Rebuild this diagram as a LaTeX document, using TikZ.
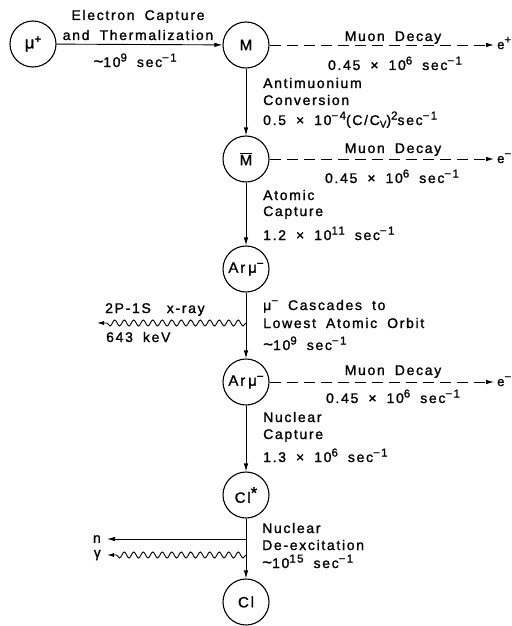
\documentclass[tikz,border=0pt]{standalone}
\usepackage{fontspec}
\setmainfont{Liberation Sans}[LetterSpace=12,WordSpace=1.8,FakeBold=1.3]
\usetikzlibrary{arrows.meta,decorations.pathmorphing}
\newcommand{\up}[1]{\raisebox{5.5pt}{\fontsize{11.5}{11.5}\selectfont #1}}
\newcommand{\dn}[1]{\raisebox{-2.5pt}{\fontsize{10}{10}\selectfont #1}}
\tikzset{
  circ/.style={draw, circle, minimum size=46pt, inner sep=0pt, line width=1.1pt,
    font=\fontsize{15}{15}\selectfont},
  arr/.style={line width=0.9pt, -{Latex[length=8pt,width=4.5pt]}},
  dsh/.style={arr, dash pattern=on 11pt off 6pt},
  wav/.style={line width=0.9pt, -{Latex[length=7pt,width=4pt]}, decorate,
    decoration={snake, amplitude=3pt, segment length=9.5pt, post length=6pt}},
  txt/.style={inner sep=0pt, font=\fontsize{14}{17}\selectfont},
  tl/.style={txt, anchor=base west},
  tc/.style={txt, anchor=base},
}
\begin{document}
\begin{tikzpicture}[x=1pt,y=-1pt]
\useasboundingbox (0,0) rectangle (511,626);
% circles
\node[circ, font=\fontsize{17}{17}\selectfont] (mu) at (33,44) {μ\up{+}};
\node[circ] (M) at (246,45) {M};
\node[circ] (Mb) at (246,159) {$\overline{\mbox{M}}$};
\node[circ] (Ar1) at (246,269) {Ar\hspace{3pt}μ\up{−}};
\node[circ] (Ar2) at (246,382) {Ar\hspace{3pt}μ\up{−}};
\node[circ] (Cls) at (246,495) {Cl\raisebox{4pt}{\fontsize{17}{17}\selectfont *}};
\node[circ] (Cl) at (246,602) {Cl};
% free ends
\coordinate (ep) at (494,45);
\coordinate (em1) at (494,159);
\coordinate (em2) at (494,382);
\coordinate (xr) at (246,323);
\coordinate (xrend) at (97,323);
\coordinate (nst) at (246,539);
\coordinate (nend) at (107,539);
\coordinate (gst) at (246,555);
\coordinate (gend) at (107,555);
% connectors
\draw[arr] (mu) -- (M);
\draw[arr] (M) -- (Mb);
\draw[arr] (Mb) -- (Ar1);
\draw[arr] (Ar1) -- (Ar2);
\draw[arr] (Ar2) -- (Cls);
\draw[arr] (Cls) -- (Cl);
\draw[dsh] (M) -- (ep);
\draw[dsh] (Mb) -- (em1);
\draw[dsh] (Ar2) -- (em2);
\draw[wav] (xr) -- (xrend);
\draw[arr] (nst) -- (nend);
\draw[wav] (gst) -- (gend);
% end labels
\node[txt, anchor=base west, font=\fontsize{13}{13}\selectfont] (e1) at (497,49) {e\up{+}};
\node[txt, anchor=base west, font=\fontsize{13}{13}\selectfont] (e2) at (497,163) {e\up{−}};
\node[txt, anchor=base west, font=\fontsize{13}{13}\selectfont] (e3) at (497,386) {e\up{−}};
\node[txt, anchor=east] (nl) at (101,539) {n};
\node[txt, anchor=east] (gl) at (101,555) {γ};
% texts
\node[tc] (ec1) at (138,20) {Electron Capture};
\node[tc] (ec2) at (138,40) {and Thermalization};
\node[tc] (ec3) at (135,67) {{\fontsize{17}{17}\selectfont\textasciitilde}10\up{9} sec\up{−1}};
\node[tc] (md1) at (393,41) {Muon Decay};
\node[tc] (md1r) at (395,70) {0.45 × 10\up{6} sec\up{−1}};
\node[tl] (ac1) at (263,88) {Antimuonium};
\node[tl] (ac2) at (263,105) {Conversion};
\node[tl] (ac3) at (263,125) {0.5 × 10\up{−4}(C/C\dn{V})\up{2}sec\up{−1}};
\node[tc] (md2) at (393,153) {Muon Decay};
\node[tc] (md2r) at (392,183) {0.45 × 10\up{6} sec\up{−1}};
\node[tl] (at1) at (263,200) {Atomic};
\node[tl] (at2) at (263,216) {Capture};
\node[tl] (at3) at (263,240) {1.2 × 10\up{11} sec\up{−1}};
\node[tl] (xr1) at (105,313) {2P-1S\hspace{16pt}x-ray};
\node[tl] (xr2) at (106,342) {643 keV};
\node[tl] (cs1) at (263,310) {μ\up{−} Cascades to};
\node[tl] (cs2) at (263,328) {Lowest Atomic Orbit};
\node[tl] (cs3) at (263,350) {{\fontsize{17}{17}\selectfont\textasciitilde}10\up{9} sec\up{−1}};
\node[tc] (md3) at (393,375) {Muon Decay};
\node[tc] (md3r) at (393,403) {0.45 × 10\up{6} sec\up{−1}};
\node[tl] (nc1) at (263,422) {Nuclear};
\node[tl] (nc2) at (263,439) {Capture};
\node[tl] (nc3) at (263,462) {1.3 × 10\up{6} sec\up{−1}};
\node[tl] (nd1) at (262,533) {Nuclear};
\node[tl] (nd2) at (262,550) {De-excitation};
\node[tl] (nd3) at (262,568) {{\fontsize{17}{17}\selectfont\textasciitilde}10\up{15} sec\up{−1}};
\end{tikzpicture}
\end{document}
